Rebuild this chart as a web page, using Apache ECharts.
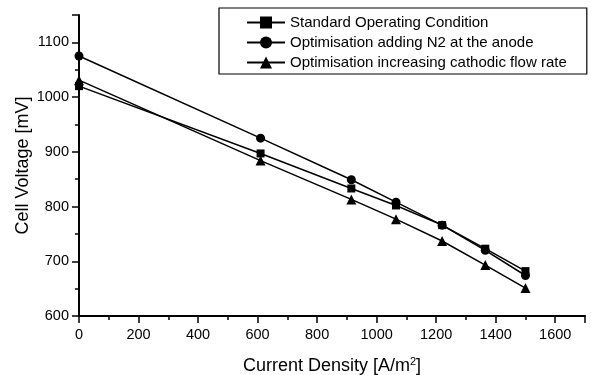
<!DOCTYPE html>
<html>
<head>
<meta charset="utf-8">
<script src="https://cdn.jsdelivr.net/npm/echarts@6/dist/echarts.min.js"></script>
<style>html,body{margin:0;padding:0;background:#fff}#c{width:591px;height:375px}</style>
</head>
<body>
<div id="c"></div>
<script>
const xValues = [0, 610, 915, 1065, 1220, 1365, 1500];
const standard = [1020, 897, 833, 802, 766, 723, 682];
const addN2 = [1075, 925, 849, 808, 766, 720, 674];
const cathodic = [1031, 884, 813, 777, 737, 693, 651];
const seriesNames = ['Standard Operating Condition', 'Optimisation adding N2 at the anode', 'Optimisation increasing cathodic flow rate'];

function pairs(ys) { return xValues.map((x, i) => [x, ys[i]]); }

const font = 'Liberation Sans, Arial, sans-serif';
const chart = echarts.init(document.getElementById('c'), null, {renderer: 'canvas'});
function mk(name, ys, sym, size) {
  return {
    name: name, type: 'line', data: pairs(ys), symbol: sym, symbolSize: size,
    lineStyle: {color: '#000', width: 1.5}, itemStyle: {color: '#000'},
    animation: false
  };
}
const plain = v => String(v);
chart.setOption({
  backgroundColor: '#fff',
  animation: false,
  grid: {left: 79, right: 6, top: 15, bottom: 59, containLabel: false, outerBoundsMode: 'none'},
  legend: {
    orient: 'vertical', left: 219, top: 8,
    padding: [7, 20, 4, 27], itemGap: 5, itemHeight: 15, itemWidth: 38,
    borderColor: '#000', borderWidth: 1.2, borderRadius: 0,
    textStyle: {color: '#000', fontSize: 15, fontFamily: font},
    data: seriesNames
  },
  xAxis: {
    type: 'value', min: 0, max: 1700, interval: 200,
    axisLine: {show: true, lineStyle: {color: '#000', width: 2}},
    axisTick: {show: true, inside: false, length: 7, lineStyle: {color: '#000', width: 1.5}},
    minorTick: {show: true, splitNumber: 2, length: 4, lineStyle: {color: '#000', width: 1.5}},
    splitLine: {show: false},
    axisLabel: {color: '#000', fontSize: 14.5, fontFamily: font, margin: 11, showMaxLabel: false, formatter: plain},
    name: 'Current Density [A/m{sup|2}]', nameLocation: 'middle', nameGap: 40, nameMoveOverlap: false,
    nameTextStyle: {color: '#000', fontSize: 18, fontFamily: font,
      rich: {sup: {fontSize: 11, verticalAlign: 'top', padding: [0, 0, 9, 0], color: '#000', fontFamily: font}}}
  },
  yAxis: {
    type: 'value', min: 600, max: 1150, interval: 100,
    axisLine: {show: true, lineStyle: {color: '#000', width: 2}},
    axisTick: {show: true, inside: false, length: 7, lineStyle: {color: '#000', width: 1.5}},
    minorTick: {show: true, splitNumber: 2, length: 4, lineStyle: {color: '#000', width: 1.5}},
    splitLine: {show: false},
    axisLabel: {color: '#000', fontSize: 14.5, fontFamily: font, margin: 10, showMaxLabel: false, formatter: plain},
    name: 'Cell Voltage [mV]', nameLocation: 'middle', nameGap: 47, nameMoveOverlap: false,
    nameTextStyle: {color: '#000', fontSize: 18, fontFamily: font}
  },
  series: [
    mk(seriesNames[0], standard, 'rect', 8),
    mk(seriesNames[1], addN2, 'circle', 9),
    mk(seriesNames[2], cathodic, 'triangle', 10)
  ]
});
</script>
</body>
</html>
